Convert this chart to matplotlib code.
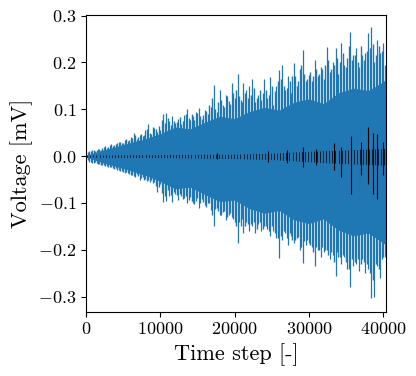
import numpy as np
import matplotlib
matplotlib.use("Agg")
import matplotlib.pyplot as plt

plt.rcParams['font.family'] = 'serif'
plt.rcParams['font.serif'] = ['cmr10']
plt.rcParams['mathtext.fontset'] = 'cm'
plt.rcParams['axes.formatter.use_mathtext'] = True

# blue signal: per-400-step swing (upper / lower peaks)
spike_x = list(range(0, 40001, 400)) + [40300]
spike_hi = [0.004, 0.010, 0.012, 0.011, 0.015, 0.014,
            0.020, 0.018, 0.024, 0.022, 0.026,
            0.030, 0.028, 0.035, 0.032, 0.040,
            0.050, 0.036, 0.045, 0.042, 0.055,
            0.068, 0.048, 0.060, 0.052, 0.055,
            0.090, 0.092, 0.075, 0.085, 0.070,
            0.080, 0.068, 0.088, 0.100, 0.078,
            0.085, 0.095, 0.102, 0.080, 0.098,
            0.090, 0.105, 0.151, 0.095, 0.140,
            0.110, 0.130, 0.118, 0.155, 0.125,
            0.175, 0.120, 0.155, 0.140, 0.150,
            0.165, 0.115, 0.130, 0.120, 0.165,
            0.125, 0.168, 0.110, 0.150, 0.183,
            0.194, 0.140, 0.170, 0.135, 0.198,
            0.150, 0.185, 0.226, 0.160, 0.173,
            0.160, 0.205, 0.170, 0.190, 0.165,
            0.232, 0.180, 0.200, 0.230, 0.175,
            0.241, 0.195, 0.210, 0.265, 0.215,
            0.230, 0.190, 0.215, 0.220, 0.262,
            0.275, 0.200, 0.247, 0.220, 0.241,
            0.194]
spike_lo = [-0.004, -0.012, -0.014, -0.013, -0.016, -0.018,
            -0.020, -0.022, -0.024, -0.026, -0.025,
            -0.030, -0.032, -0.035, -0.036, -0.040,
            -0.042, -0.038, -0.050, -0.045, -0.048,
            -0.052, -0.050, -0.055, -0.076, -0.060,
            -0.097, -0.095, -0.085, -0.098, -0.080,
            -0.093, -0.085, -0.090, -0.100, -0.088,
            -0.100, -0.095, -0.110, -0.092, -0.105,
            -0.100, -0.115, -0.150, -0.110, -0.125,
            -0.120, -0.137, -0.125, -0.130, -0.140,
            -0.185, -0.150, -0.165, -0.140, -0.160,
            -0.150, -0.165, -0.145, -0.160, -0.150,
            -0.155, -0.170, -0.160, -0.175, -0.218,
            -0.180, -0.165, -0.190, -0.170, -0.185,
            -0.175, -0.200, -0.228, -0.190, -0.185,
            -0.195, -0.235, -0.200, -0.215, -0.205,
            -0.200, -0.220, -0.210, -0.256, -0.215,
            -0.230, -0.215, -0.240, -0.279, -0.235,
            -0.230, -0.245, -0.220, -0.250, -0.240,
            -0.303, -0.300, -0.235, -0.260, -0.215,
            -0.215]

# in-between swings (offset by 200 steps), smaller than the peaks
mid_x = list(range(200, 40000, 400))
mid_hi = [0.008, 0.011, 0.012, 0.013, 0.016,
          0.018, 0.021, 0.020, 0.025, 0.023,
          0.027, 0.031, 0.029, 0.036, 0.034,
          0.039, 0.044, 0.040, 0.048, 0.046,
          0.058, 0.050, 0.062, 0.057, 0.065,
          0.078, 0.070, 0.082, 0.066, 0.074,
          0.072, 0.083, 0.075, 0.090, 0.082,
          0.090, 0.078, 0.092, 0.085, 0.088,
          0.097, 0.110, 0.125, 0.100, 0.115,
          0.120, 0.105, 0.128, 0.112, 0.135,
          0.140, 0.128, 0.115, 0.135, 0.125,
          0.130, 0.145, 0.125, 0.140, 0.135,
          0.140, 0.130, 0.150, 0.138, 0.160,
          0.165, 0.150, 0.145, 0.160, 0.170,
          0.170, 0.160, 0.195, 0.175, 0.165,
          0.180, 0.170, 0.185, 0.175, 0.185,
          0.195, 0.205, 0.185, 0.195, 0.210,
          0.200, 0.220, 0.190, 0.235, 0.205,
          0.215, 0.200, 0.235, 0.205, 0.225,
          0.230, 0.240, 0.215, 0.235, 0.225]
mid_lo = [-0.009, -0.012, -0.014, -0.015, -0.017,
          -0.019, -0.021, -0.023, -0.024, -0.027,
          -0.029, -0.031, -0.034, -0.033, -0.038,
          -0.041, -0.044, -0.043, -0.047, -0.050,
          -0.053, -0.056, -0.058, -0.063, -0.066,
          -0.078, -0.085, -0.072, -0.082, -0.076,
          -0.083, -0.080, -0.092, -0.086, -0.094,
          -0.095, -0.102, -0.090, -0.100, -0.097,
          -0.108, -0.100, -0.125, -0.112, -0.118,
          -0.125, -0.118, -0.130, -0.122, -0.135,
          -0.150, -0.140, -0.135, -0.150, -0.145,
          -0.145, -0.140, -0.155, -0.140, -0.155,
          -0.150, -0.160, -0.150, -0.165, -0.175,
          -0.170, -0.160, -0.175, -0.165, -0.178,
          -0.180, -0.172, -0.195, -0.182, -0.178,
          -0.190, -0.205, -0.195, -0.200, -0.195,
          -0.200, -0.210, -0.205, -0.225, -0.205,
          -0.215, -0.210, -0.225, -0.240, -0.220,
          -0.225, -0.220, -0.230, -0.225, -0.230,
          -0.250, -0.265, -0.230, -0.240, -0.220]

# dense core of the blue band (ragged edge)
core_x = list(range(0, 40001, 2000)) + [40350]
core_hi = [0.002, 0.012, 0.020, 0.029, 0.037, 0.048, 0.062, 0.058, 0.072, 0.085, 0.080,
           0.095, 0.104, 0.098, 0.115, 0.122, 0.112, 0.135, 0.145, 0.140, 0.158, 0.165]
core_lo = [-0.002, -0.013, -0.022, -0.031, -0.041, -0.054, -0.070, -0.066, -0.082, -0.097, -0.094,
           -0.112, -0.122, -0.116, -0.136, -0.144, -0.134, -0.158, -0.170, -0.164, -0.185, -0.190]

# black signal: thin band plus spikes
bcore_x = [0, 10000, 20000, 25000, 30000, 35000, 40350]
bcore_hi = [0.001, 0.002, 0.003, 0.005, 0.009, 0.012, 0.015]
bcore_lo = [-0.001, -0.002, -0.004, -0.006, -0.011, -0.015, -0.018]
bspike_x = [17700, 24500, 27000, 29200, 31000, 33400, 34300, 35700, 37000, 38000, 38600, 39200, 40000]
bspike_hi = [0.006, 0.010, 0.012, 0.020, 0.015, 0.028, 0.020, 0.043, 0.030, 0.062, 0.050, 0.048, 0.030]
bspike_lo = [-0.006, -0.012, -0.015, -0.023, -0.020, -0.030, -0.045, -0.080, -0.040, -0.060, -0.080, -0.092, -0.040]

BLUE = "#1f77b4"
fig = plt.figure(figsize=(4.16, 3.76), dpi=100)
ax = fig.add_axes([0.207, 0.171, 0.720, 0.789])

ax.fill_between(core_x, core_lo, core_hi, color=BLUE, lw=0)
ax.vlines(mid_x, mid_lo, mid_hi, color=BLUE, lw=1.0)
ax.vlines(spike_x, spike_lo, spike_hi, color=BLUE, lw=0.9)
ax.fill_between(bcore_x, bcore_lo, bcore_hi, facecolor="k", edgecolor="k", lw=0.8)
ax.vlines(bspike_x, bspike_lo, bspike_hi, color="k", lw=0.8)

ax.set_xlim(0, 40350)
ax.set_ylim(-0.332, 0.301)
ax.set_xticks([0, 10000, 20000, 30000, 40000])
ax.set_yticks([-0.3, -0.2, -0.1, 0.0, 0.1, 0.2, 0.3])
ax.tick_params(labelsize=13)
ax.set_xlabel("Time step [-]", fontsize=16)
ax.set_ylabel("Voltage [mV]", fontsize=16)

fig.savefig("out.png", dpi=100)
